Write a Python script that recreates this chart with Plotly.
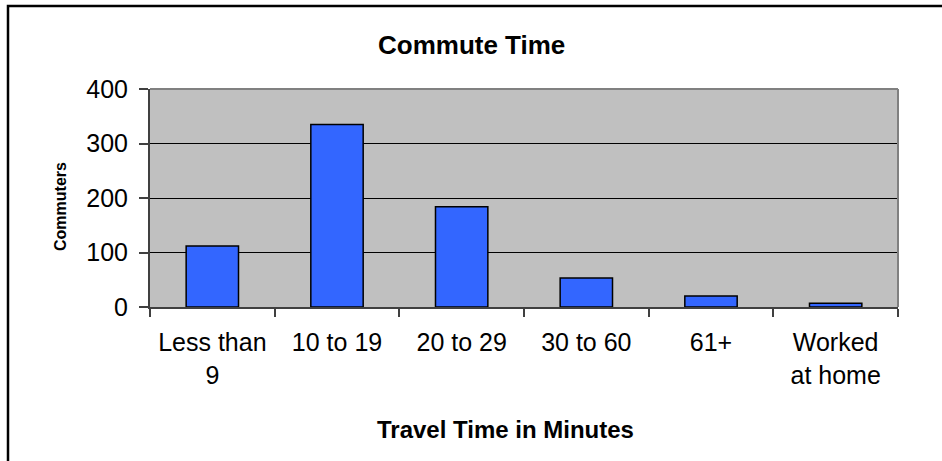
import plotly.graph_objects as go

categories = ["Less than<br>9", "10 to 19", "20 to 29", "30 to 60", "61+", "Worked<br>at home"]
commuters = [112, 335, 184, 53, 20, 7]
y_ticks = [0, 100, 200, 300, 400]

W, H = 942, 461
L, R, T, B = 150, 898, 89, 307  # plot area pixel edges
pw, ph = R - L, B - T

def px(x):
    return (x - L) / pw

def py(y):
    return (B - y) / ph

FONT = "Liberation Sans, Arial, sans-serif"

fig = go.Figure(
    go.Bar(
        x=categories,
        y=commuters,
        marker=dict(color="#3366FF", line=dict(color="#000000", width=1.5)),
    )
)

fig.update_layout(
    width=W,
    height=H,
    margin=dict(l=L, r=W - R, t=T, b=H - B),
    paper_bgcolor="white",
    plot_bgcolor="#C0C0C0",
    bargap=0.58,
    showlegend=False,
    font=dict(family=FONT, color="black"),
)

fig.update_xaxes(
    type="category",
    tickson="boundaries",
    ticks="outside",
    ticklen=8,
    tickwidth=1.5,
    tickcolor="#404040",
    showline=True,
    linecolor="#404040",
    linewidth=2,
    showgrid=False,
    tickfont=dict(size=25, family=FONT, color="black"),
    ticklabelstandoff=12,
)

fig.update_yaxes(
    range=[0, 400],
    tickvals=y_ticks,
    ticks="outside",
    ticklen=9,
    tickwidth=1.5,
    tickcolor="#404040",
    showline=True,
    linecolor="#404040",
    linewidth=2,
    showgrid=True,
    gridcolor="#000000",
    gridwidth=1,
    zeroline=False,
    tickfont=dict(size=25, family=FONT, color="black"),
    ticklabelstandoff=6,
)

shapes = [
    # outer chart border
    dict(type="rect", xref="paper", yref="paper",
         x0=px(8), x1=px(965), y0=py(485), y1=py(6),
         line=dict(color="black", width=2.5), fillcolor="rgba(0,0,0,0)", layer="above"),
    # plot area top and right border
    dict(type="line", xref="paper", yref="paper", x0=0, x1=1, y0=1, y1=1,
         line=dict(color="#808080", width=2)),
    dict(type="line", xref="paper", yref="paper", x0=1, x1=1, y0=0, y1=1,
         line=dict(color="#808080", width=2)),
]
fig.update_layout(shapes=shapes)

annotations = [
    dict(text="<b>Commute Time</b>", xref="paper", yref="paper",
         x=px(471), y=py(45), showarrow=False, xanchor="center", yanchor="middle",
         font=dict(size=26, family=FONT, color="black")),
    dict(text="<b>Travel Time in Minutes</b>", xref="paper", yref="paper",
         x=px(505), y=py(429), showarrow=False, xanchor="center", yanchor="middle",
         font=dict(size=24, family=FONT, color="black")),
    dict(text="<b>Commuters</b>", xref="paper", yref="paper",
         x=px(60), y=py(207), showarrow=False, xanchor="center", yanchor="middle",
         textangle=-90, font=dict(size=16, family=FONT, color="black")),
]
fig.update_layout(annotations=annotations)

fig.write_html("out.html")
